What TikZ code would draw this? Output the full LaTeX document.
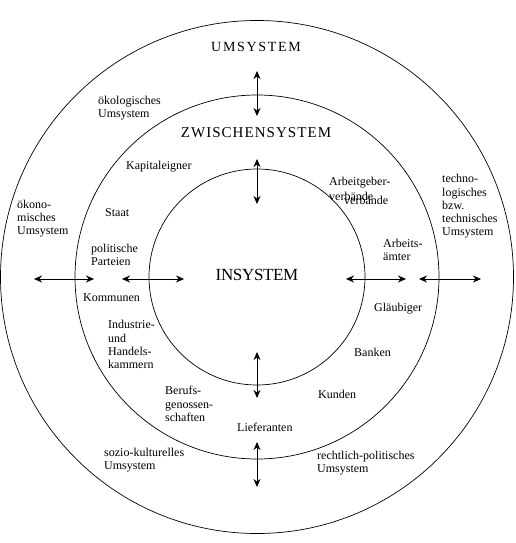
\documentclass[tikz,border=0pt]{standalone}
\usepackage{fontspec}
\setmainfont{Liberation Serif}
\usetikzlibrary{arrows.meta}
\begin{document}
\begin{tikzpicture}[x=1pt,y=-1pt,
  ring/.style={draw=black,line width=0.7pt},
  biarrow/.style={line width=0.8pt,{Stealth[length=8pt,width=7pt]}-{Stealth[length=8pt,width=7pt]}},
  lbl/.style={font=\fontsize{12}{13.2}\selectfont,align=left,anchor=west,inner sep=0pt},
  ttl/.style={inner sep=0pt,anchor=center}]
\useasboundingbox (0,0) rectangle (515,543);
\fill[white] (0,0) rectangle (515,543);
% circles
\coordinate (c) at (257,277);
\draw[ring] (c) circle[radius=256.5pt];
\draw[ring] (c) circle[radius=182pt];
\draw[ring] (c) circle[radius=108pt];
% titles
\node[ttl,font=\fontsize{14}{16}\selectfont\addfontfeature{LetterSpace=12}] (um) at (256,47) {UMSYSTEM};
\node[ttl,font=\fontsize{15}{17}\selectfont\addfontfeature{LetterSpace=7}] (zw) at (256,133) {ZWISCHENSYSTEM};
\node[ttl,font=\fontsize{17}{19}\selectfont\addfontfeature{LetterSpace=-2}] (in) at (257,275) {INSYSTEM};
% arrows
\coordinate (v1a) at (257,71); \coordinate (v1b) at (257,116);
\coordinate (v2a) at (257,159); \coordinate (v2b) at (257,204);
\coordinate (v3a) at (257,352); \coordinate (v3b) at (257,398);
\coordinate (v4a) at (257,442); \coordinate (v4b) at (257,487);
\coordinate (h1a) at (34,279); \coordinate (h1b) at (94,279);
\coordinate (h2a) at (122,279); \coordinate (h2b) at (184,279);
\coordinate (h3a) at (346,279); \coordinate (h3b) at (406,279);
\coordinate (h4a) at (419,279); \coordinate (h4b) at (481,279);
\draw[biarrow] (v1a) -- (v1b);
\draw[biarrow] (v2a) -- (v2b);
\draw[biarrow] (v3a) -- (v3b);
\draw[biarrow] (v4a) -- (v4b);
\draw[biarrow] (h1a) -- (h1b);
\draw[biarrow] (h2a) -- (h2b);
\draw[biarrow] (h3a) -- (h3b);
\draw[biarrow] (h4a) -- (h4b);
% labels
\node[lbl] (oeko) at (98,108) {ökologisches\\Umsystem};
\node[lbl] (kap) at (126,167) {Kapitaleigner};
\node[lbl] (oekon) at (17,218.5) {ökono-\\misches\\Umsystem};
\node[lbl] (staat) at (105,213) {Staat};
\node[lbl] (pol) at (91,254.5) {politische\\Parteien};
\node[lbl] (komm) at (83,298) {Kommunen};
\node[lbl] (ihk) at (108,344.5) {Industrie-\\und\\Handels-\\kammern};
\node[lbl] (tech) at (442,206.5) {techno-\\logisches\\bzw.\\technisches\\Umsystem};
\node[lbl] (agv) at (329,183) {Arbeitgeber-};
\node[lbl] (verb1) at (329,196) {verbände};
\node[lbl] (verb2) at (344,200) {verbände};
\node[lbl] (aa) at (383,250) {Arbeits-\\ämter};
\node[lbl] (glaeub) at (374,309) {Gläubiger};
\node[lbl] (bank) at (354,352) {Banken};
\node[lbl] (kund) at (318,394) {Kunden};
\node[lbl] (beruf) at (165,404) {Berufs-\\genossen-\\schaften};
\node[lbl] (lief) at (237,427) {Lieferanten};
\node[lbl] (sozio) at (104,460) {sozio-kulturelles\\Umsystem};
\node[lbl] (recht) at (317,463.5) {rechtlich-politisches\\Umsystem};
\end{tikzpicture}
\end{document}
